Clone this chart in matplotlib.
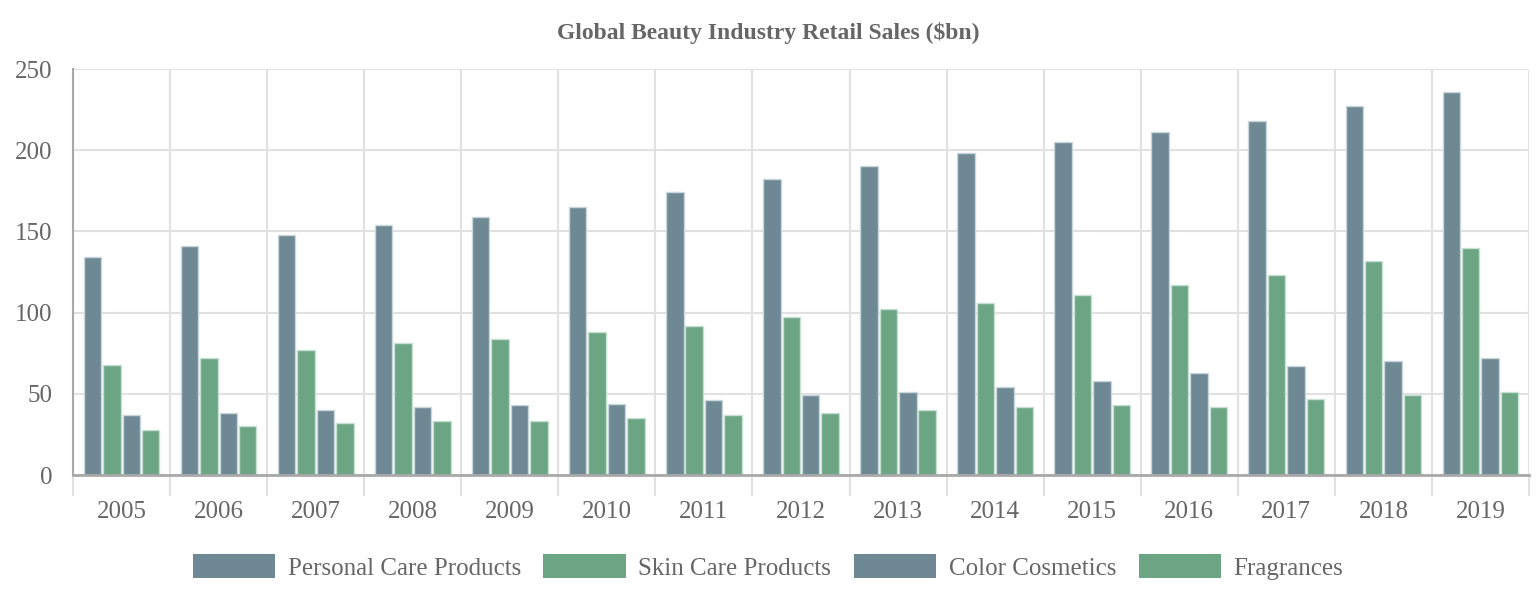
import matplotlib
matplotlib.use("Agg")
import matplotlib.pyplot as plt
import numpy as np

years = ["2005", "2006", "2007", "2008", "2009", "2010", "2011", "2012",
         "2013", "2014", "2015", "2016", "2017", "2018", "2019"]
personal_care = [134, 141, 148, 154, 159, 165, 174, 182, 190, 198, 205, 211, 218, 227, 236]
skin_care = [68, 72, 77, 81, 84, 88, 92, 97, 102, 106, 111, 117, 123, 132, 140]
color_cosmetics = [37, 38, 40, 42, 43, 44, 46, 49, 51, 54, 58, 63, 67, 70, 72]
fragrances = [28, 30, 32, 33, 33, 35, 37, 38, 40, 42, 43, 42, 47, 49, 51]
series_names = ["Personal Care Products", "Skin Care Products", "Color Cosmetics", "Fragrances"]
y_ticks = [0, 50, 100, 150, 200, 250]

blue = "#6E8994"
green = "#6BA583"
colors = [blue, green, blue, green]
edge_colors = ["#c9d6dc", "#c8e0d2", "#c9d6dc", "#c8e0d2"]
text_col = "#666666"

plt.rcParams['font.family'] = ['Liberation Serif', 'DejaVu Serif']

fig = plt.figure(figsize=(15.36, 6.0), dpi=100)
ax = fig.add_axes([73/1536, 125/600, (1529-73)/1536, 406/600])

x = np.arange(len(years))
data = [personal_care, skin_care, color_cosmetics, fragrances]
slot = 0.8 / 4
bw = slot * 0.9
handles = []
for i, (vals, name) in enumerate(zip(data, series_names)):
    h = ax.bar(x + (i - 1.5) * slot, vals, width=bw, color=colors[i],
               edgecolor=edge_colors[i], linewidth=1, label=name, zorder=3)
    handles.append(h)

ax.set_xlim(-0.5, len(years) - 0.5)
ax.set_ylim(0, 250)
ax.set_yticks(y_ticks)
ax.set_xticks(x)
ax.set_xticklabels(years)
ax.set_xticks(np.arange(-0.5, len(years)), minor=True)

ax.grid(axis='y', which='major', color='#e1e1e1', linewidth=1.5, zorder=0)
ax.grid(axis='x', which='minor', color='#e1e1e1', linewidth=1.5, zorder=0)
ax.grid(axis='x', which='major', visible=False)

ax.tick_params(axis='x', which='major', length=0, pad=19, labelsize=18, labelcolor=text_col)
ax.tick_params(axis='x', which='minor', length=15, width=1.5, color='#e1e1e1')
ax.tick_params(axis='y', which='major', length=0, pad=15, labelsize=18, labelcolor=text_col)

for s in ['top', 'right']:
    ax.spines[s].set_visible(False)
ax.spines['left'].set_color('#a8a8a8')
ax.spines['left'].set_linewidth(1.5)
ax.spines['bottom'].set_color('#a8a8a8')
ax.spines['bottom'].set_linewidth(2)
ax.spines['bottom'].set_zorder(4)

fig.text(0.5, 1 - 33/600, "Global Beauty Industry Retail Sales ($bn)", ha='center', va='center',
         fontsize=17, fontweight='bold', color=text_col)

leg = fig.legend(handles=handles, labels=series_names, loc='center', bbox_to_anchor=(0.5, 1 - 567/600),
                 ncol=4, frameon=False, fontsize=18, handlelength=3.3, handleheight=1.05,
                 handletextpad=0.5, columnspacing=0.9, labelcolor=text_col)
for p in leg.get_patches():
    p.set_edgecolor('none')

fig.savefig("out.png", dpi=100)
